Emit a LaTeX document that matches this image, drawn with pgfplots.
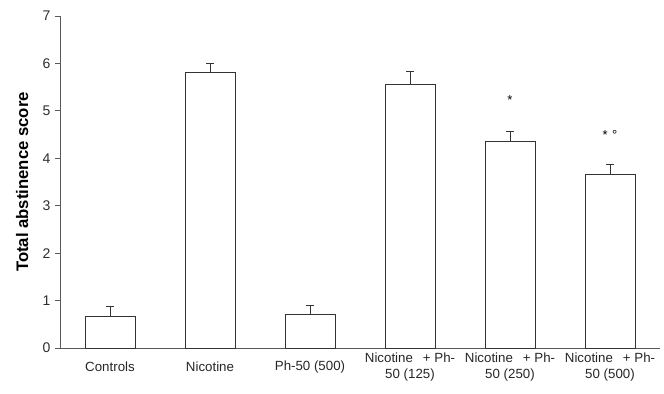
\documentclass[border=0pt]{standalone}
\usepackage{fontspec}
\setmainfont{Liberation Sans}
\usepackage{pgfplots}
\pgfplotsset{compat=1.18}
\usetikzlibrary{calc}
\definecolor{axc}{gray}{0.35}
\definecolor{barc}{gray}{0.2}
\begin{document}
\begin{tikzpicture}[font=\fontsize{13bp}{16bp}\selectfont]
\begin{axis}[
  scale only axis, width=600bp, height=332bp,
  xmin=-0.5, xmax=5.5, ymin=0, ymax=7,
  axis x line=bottom, axis y line=left,
  axis line style={-, draw=axc, line width=0.9pt},
  ytick={0,1,...,7},
  xtick={0,1,2,3,4,5},
  xticklabels={Controls, Nicotine, Ph-50 (500),
    {Nicotine\hspace{0.75em}+ Ph-\\50 (125)},
    {Nicotine\hspace{0.75em}+ Ph-\\50 (250)},
    {Nicotine\hspace{0.75em}+ Ph-\\50 (500)}},
  xtick style={draw=none},
  ytick style={draw=axc, line width=0.9pt},
  major tick length=5bp, tick align=outside,
  /pgf/number format/assume math mode=true,
  yticklabel style={font=\fontsize{14bp}{16bp}\selectfont, color=axc!50!black, xshift=-1bp},
  xticklabel style={align=center, anchor=center, yshift=-14bp, font=\fontsize{13.3bp}{16bp}\selectfont, color=black!85},
  ylabel={\textbf{Total abstinence score}},
  ylabel style={at={(axis description cs:-0.063,0.5)}, rotate=0, anchor=center, font=\fontsize{16.7bp}{19bp}\selectfont},
  ybar, bar width=50bp,
  clip=false,
]
\addplot[draw=barc, fill=white, line width=0.9pt,
  error bars/.cd, y dir=plus, y explicit,
  error bar style={draw=barc, line width=0.9pt},
  error mark options={rotate=90, mark size=4bp, draw=barc, line width=0.9pt}]
  coordinates {
  (0,0.675) +- (0,0.21)
  (1,5.82) +- (0,0.17)
  (2,0.70) +- (0,0.20)
  (3,5.56) +- (0,0.27)
  (4,4.36) +- (0,0.215)
  (5,3.66) +- (0,0.21)
  };
\node[font=\fontsize{13bp}{15bp}\selectfont] at (axis cs:4,5.22) {*};
\node[font=\fontsize{13bp}{15bp}\selectfont] at (axis cs:5,4.50) {*\,\,°};
\coordinate (bl) at (rel axis cs:0,0);
\coordinate (tr) at (rel axis cs:1,1);
\end{axis}
\pgfresetboundingbox
\path ($(bl)+(-60bp,-45bp)$) rectangle ($(tr)+(4bp,16bp)$);
\end{tikzpicture}
\end{document}
